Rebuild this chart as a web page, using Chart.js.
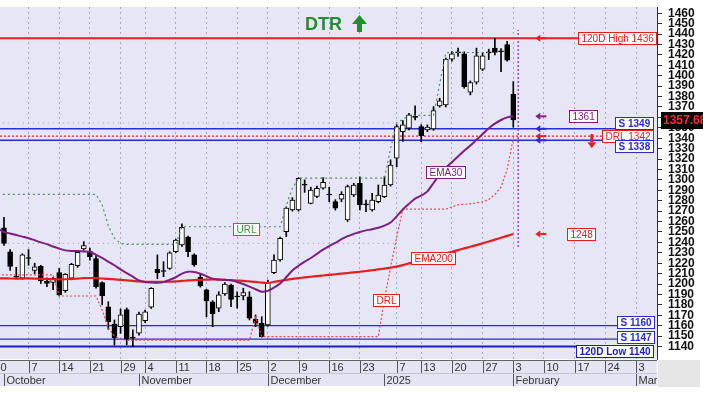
<!DOCTYPE html>
<html>
<head>
<meta charset="utf-8">
<script src="https://cdn.jsdelivr.net/npm/chart.js@4.4.1/dist/chart.umd.min.js"></script>
<style>
  body { margin: 0; background: #fff; }
  #wrap { width: 703px; height: 395px; }
</style>
</head>
<body>
<div id="wrap"><canvas id="chart" width="703" height="395"></canvas></div>
<script>
// x position = trading day index, 0 = 30 Sep 2024, 84 = 3 Feb 2025 (last candle)
const firstCandle = 1;

// weekly tick labels and month row
const tickIdx = [-1, 5, 10, 15, 20, 24, 29, 34, 39, 44, 49, 54, 59, 65, 69, 74, 79, 84, 89, 94, 99, 104];
const tickLabels = ['30', '7', '14', '21', '29', '4', '11', '18', '25', '2', '9', '16', '23', '7', '13', '20', '27', '3', '10', '17', '24', '3'];
const monthIdx = [1, 23, 44, 63, 84, 104];
const monthLabels = ['October', 'November', 'December', '2025', 'February', 'March'];
const yTicks = [1140, 1150, 1160, 1170, 1180, 1190, 1200, 1210, 1220, 1230, 1240, 1250, 1260, 1270, 1280,
  1290, 1300, 1310, 1320, 1330, 1340, 1350, 1360, 1370, 1380, 1390, 1400, 1410, 1420, 1430, 1440, 1450, 1460];

// daily candles, index 1..84
const open = [
  1254, 1231, 1207.5, 1205.5, 1225.5, 1213, 1217, 1202.5, 1201.5, 1211,
  1193.5, 1205.5, 1217.5, 1233.7, 1231.5, 1224.5, 1201.5, 1178, 1161.5, 1159,
  1175.5, 1148.5, 1152.7, 1164.8, 1177.7, 1214, 1212.5, 1215, 1231, 1237.5,
  1245, 1228, 1206.5, 1194.3, 1183, 1176.7, 1190.4, 1199, 1188.3, 1188.5,
  1187.8, 1166.1, 1162.3, 1160.7, 1210.9, 1223.1, 1250.3, 1271.1, 1271.1, 1296,
  1277.5, 1284, 1292, 1286.3, 1279.1, 1281.4, 1261.5, 1285.5, 1296.8, 1276.5,
  1271.1, 1279.1, 1283.9, 1295.1, 1320.8, 1346.3, 1349.6, 1360.6, 1351.2, 1348,
  1349, 1371, 1372, 1415.9, 1422.8, 1421, 1384.2, 1393.8, 1406.3, 1422.8,
  1426.5, 1424, 1430, 1382.3
];
const high = [
  1264, 1233, 1216, 1229, 1233, 1220, 1218, 1206, 1206.5, 1215,
  1210, 1220, 1231.5, 1240.7, 1234.5, 1228, 1202, 1183, 1165.5, 1176,
  1177, 1156, 1173, 1175, 1196.5, 1228, 1221.5, 1231, 1243, 1257.7,
  1246, 1229, 1210.3, 1195, 1184, 1192.6, 1201.3, 1200, 1192.6, 1196,
  1192.6, 1170.3, 1168.6, 1203.9, 1228, 1245, 1274, 1283, 1302, 1300,
  1293, 1294, 1302.2, 1293, 1281, 1288.7, 1295, 1296.8, 1303, 1280.7,
  1287.2, 1295.1, 1303.1, 1319.2, 1353, 1357, 1364, 1371, 1353, 1352.8,
  1370.4, 1378.4, 1417, 1423.2, 1426.5, 1423, 1395, 1426.5, 1422.3, 1425.5,
  1436, 1426, 1433, 1394.4
];
const low = [
  1237, 1213, 1205, 1204.5, 1218, 1210, 1200.5, 1197.5, 1194.5, 1188.5,
  1192, 1204, 1216, 1232.5, 1223, 1196, 1180, 1156.5, 1141.4, 1152.7,
  1141.5, 1140, 1151, 1163, 1176.5, 1205, 1207, 1214, 1230, 1236,
  1226.3, 1217, 1197, 1168.6, 1159, 1173.4, 1189, 1178.2, 1176.7, 1184.7,
  1165.5, 1159, 1149, 1159.5, 1210, 1222, 1245.5, 1270, 1270, 1288,
  1277, 1283, 1291, 1279, 1271, 1279, 1260, 1284, 1271.1, 1269.5,
  1270, 1278, 1283, 1294, 1312.7, 1337, 1348, 1357.5, 1336.7, 1346.3,
  1347.5, 1369.8, 1370, 1414, 1418.5, 1388, 1381.6, 1392, 1405, 1415.5,
  1420, 1404, 1414, 1350.6
];
const close = [
  1239, 1217, 1206.5, 1228, 1224.5, 1216.5, 1203, 1200.5, 1205.5, 1189.5,
  1209.4, 1219, 1230.5, 1236.8, 1226, 1197.5, 1188.5, 1163.8, 1148.5, 1170.3,
  1147, 1148, 1171.2, 1173.4, 1195.9, 1211, 1212, 1230, 1242.3, 1254.5,
  1231, 1218.3, 1198.1, 1183.7, 1171.2, 1189.5, 1200, 1185.3, 1187.5, 1191.7,
  1167.1, 1162.3, 1149.4, 1201.7, 1223.1, 1243.9, 1272.8, 1280.7, 1301.6, 1295,
  1290.3, 1292, 1297.7, 1285.5, 1272.8, 1286.2, 1293.5, 1295.1, 1276, 1276,
  1280.7, 1285.5, 1295.1, 1314.3, 1351.2, 1352.8, 1362.4, 1360, 1342.2, 1350.6,
  1366.5, 1375.8, 1415.9, 1421, 1422, 1389.6, 1393.4, 1419, 1419, 1422,
  1422.3, 1423, 1415, 1357.68
];

// indicator lines, index 0..84
const ema30 = [
  1253, 1250, 1248.5, 1247, 1245.5, 1244, 1242, 1240, 1238.3, 1236,
  1234, 1232.3, 1231.8, 1231.7, 1231.3, 1231, 1228, 1225, 1221.5, 1218,
  1214, 1210.5, 1207, 1203.5, 1202, 1201.5, 1201.2, 1201.8, 1204, 1206.5,
  1210, 1211.8, 1211.5, 1209.8, 1207.5, 1205, 1204.3, 1204, 1203.5, 1202,
  1200, 1197.5, 1195, 1192.6, 1193.5, 1196.5, 1200.5, 1206.5, 1213, 1217.5,
  1221.5, 1225, 1229, 1233, 1236.5, 1239.5, 1243, 1246, 1248, 1250,
  1251.5, 1252.5, 1254, 1256, 1259, 1265, 1271.5, 1277, 1282, 1285,
  1289, 1297, 1305, 1311.5, 1317, 1322.5, 1328, 1333, 1338.5, 1344,
  1349.5, 1354, 1357.5, 1360, 1361
];
const ema200 = [
  1205.5, 1205.5, 1205.3, 1205.2, 1205.3, 1205.4, 1205.2, 1205, 1204.8, 1204.6,
  1204.5, 1204.6, 1204.8, 1205.2, 1205.6, 1205.8, 1205.6, 1205.3, 1205, 1204.5,
  1204, 1203.5, 1203, 1202.5, 1202.2, 1202.2, 1202.2, 1202.2, 1202.2, 1202.5,
  1203, 1203.5, 1203.8, 1204, 1204.2, 1204.4, 1204.3, 1204, 1203.7, 1203.3,
  1203, 1202.5, 1202, 1201.3, 1201, 1202, 1203, 1204, 1205, 1205.7,
  1206.3, 1207, 1207.6, 1208.2, 1208.8, 1209.4, 1210, 1210.6, 1211.2, 1211.8,
  1212.5, 1213.2, 1214, 1214.8, 1215.7, 1216.7, 1218.2, 1219.8, 1221.4, 1223,
  1224.6, 1226.2, 1227.8, 1229.4, 1231, 1232.6, 1234.2, 1235.8, 1237.4, 1239,
  1240.8, 1242.6, 1244.4, 1246.2, 1248
];
const drl = [
  1208.7, 1208.7, 1208.7, 1208.7, 1208.7, 1208.7, 1208.7, 1208.7, 1208.7, 1208.7,
  1188.5, 1188.5, 1188.5, 1188.5, 1188.5, 1188.5, 1188.5, 1175, 1158, 1150,
  1147, 1146, 1146, 1146, 1146, 1146, 1146, 1146, 1146, 1146,
  1146, 1146, 1146, 1146, 1146, 1146, 1146, 1146, 1146, 1146,
  1146, 1146, 1168, 1149.4, 1149.4, 1149.4, 1149.4, 1149.4, 1149.4, 1149.4,
  1149.4, 1149.4, 1149.4, 1149.4, 1149.4, 1149.4, 1149.4, 1149.4, 1149.4, 1149.4,
  1149.4, 1149.4, 1149.4, 1185, 1216, 1245, 1272, 1272, 1272, 1272,
  1272, 1272, 1272, 1272, 1274, 1276, 1276.5, 1277, 1278, 1279,
  1281, 1286, 1293, 1310, 1340
];
const url = [
  1286, 1286, 1286, 1286, 1286, 1286, 1286, 1286, 1286, 1286,
  1286, 1286, 1286, 1286, 1286, 1286, 1286, 1276, 1256, 1244,
  1239, 1238, 1238, 1238, 1238, 1238, 1238, 1238, 1238, 1238,
  1255, 1255, 1255, 1255, 1255, 1255, 1255, 1255, 1255, 1255,
  1255, 1255, 1255, 1255, 1255, 1255, 1255, 1275, 1292, 1301.6,
  1301.6, 1301.6, 1301.6, 1301.6, 1301.6, 1301.6, 1301.6, 1301.6, 1301.6, 1301.6,
  1301.6, 1301.6, 1301.6, 1301.6, 1330, 1355, 1358, 1362, 1362, 1362,
  1362, 1362, 1392, 1422, 1422.3, 1422.3, 1422.3, 1422.3, 1422.3, 1422.3,
  1422.3
];

// dotted reference levels on the left part, and the "today" marker
const refLevels = [1354.5, 1239];
const refEnd = 64.5;
const todayIdx = 84.8;
const todayRange = [1235.5, 1444];

// labelled horizontal levels
const levelValues = [1436, 1349, 1342, 1338, 1160, 1147, 1140];
const levelNames = ['120D High 1436', 'S 1349', 'DRL 1342', 'S 1338', 'S 1160', 'S 1147', '120D Low 1140'];
const lastPrice = 1357.68;

const RED = '#e3201f';
const BLUE = '#2a2ad6';
const PURPLE = '#7e1f80';
const GREEN = '#2f9a3a';
const PLOT_BG = 'rgb(230,230,246)';
const FONT = '"Liberation Sans", Arial, sans-serif';

const levelStyle = [
  { color: RED, width: 2, dash: [], bold: false, right: 656, dy: 0 },
  { color: BLUE, width: 1.5, dash: [], bold: true, right: 653, dy: -6 },
  { color: RED, width: 1.2, dash: [2, 2], bold: false, right: 653, dy: 0 },
  { color: BLUE, width: 1.5, dash: [], bold: true, right: 653, dy: 6 },
  { color: BLUE, width: 1.2, dash: [], bold: true, right: 654, dy: -4 },
  { color: BLUE, width: 1.2, dash: [], bold: true, right: 654, dy: -2 },
  { color: '#1c1cb8', width: 2, dash: [], bold: true, right: 653, dy: 4 }
];

Chart.defaults.font.family = FONT;

function toPoints(arr, start) {
  return arr.map((v, i) => ({ x: start + i, y: v }));
}

function boxWidth(ctx, text, bold) {
  ctx.font = (bold ? 'bold ' : '') + '10px ' + FONT;
  return Math.round(ctx.measureText(text).width) + 6;
}

function drawBox(ctx, text, x, cy, color, bold, align) {
  const w = boxWidth(ctx, text, bold);
  const h = 12;
  const left = Math.round(align === 'right' ? x - w : x - w / 2) + 0.5;
  const top = Math.round(cy - h / 2) + 0.5;
  ctx.fillStyle = '#fff';
  ctx.fillRect(left, top, w, h);
  ctx.strokeStyle = color;
  ctx.lineWidth = 1;
  ctx.setLineDash([]);
  ctx.strokeRect(left, top, w, h);
  ctx.fillStyle = color;
  ctx.textAlign = 'left';
  ctx.textBaseline = 'middle';
  ctx.fillText(text, left + 3, top + h / 2 + 0.5);
}

function leftArrow(ctx, x, y, color) {
  ctx.fillStyle = color;
  ctx.beginPath();
  ctx.moveTo(x - 5, y);
  ctx.lineTo(x, y - 3.5);
  ctx.lineTo(x, y + 3.5);
  ctx.closePath();
  ctx.fill();
  ctx.fillRect(x, y - 1, 6, 2);
}

const deco = {
  id: 'deco',
  beforeDraw(chart) {
    const { ctx, chartArea: a } = chart;
    ctx.save();
    ctx.fillStyle = '#fff';
    ctx.fillRect(0, 0, chart.width, chart.height);
    ctx.fillStyle = PLOT_BG;
    ctx.fillRect(a.left, a.top, a.right - a.left, a.bottom - a.top);
    ctx.restore();
  },
  beforeDatasetsDraw(chart) {
    const { ctx, chartArea: a } = chart;
    const ys = chart.scales.y;
    ctx.save();
    levelValues.forEach((v, i) => {
      const st = levelStyle[i];
      const y = ys.getPixelForValue(v);
      const end = st.right - boxWidth(ctx, levelNames[i], st.bold);
      ctx.strokeStyle = st.color;
      ctx.lineWidth = st.width;
      ctx.setLineDash(st.dash);
      ctx.beginPath();
      ctx.moveTo(a.left, y);
      ctx.lineTo(end, y);
      ctx.stroke();
    });
    ctx.restore();
  },
  afterDatasetsDraw(chart) {
    const { ctx } = chart;
    const xs = chart.scales.x, ys = chart.scales.y;
    ctx.save();
    levelValues.forEach((v, i) => {
      const st = levelStyle[i];
      drawBox(ctx, levelNames[i], st.right, ys.getPixelForValue(v) + st.dy, st.color, st.bold, 'right');
    });
    drawBox(ctx, String(ema30[84]), 582.5, ys.getPixelForValue(ema30[84]), PURPLE, false, 'center');
    drawBox(ctx, String(ema200[84]), 580.5, ys.getPixelForValue(ema200[84]), RED, false, 'center');
    drawBox(ctx, 'URL', xs.getPixelForValue(40.4), ys.getPixelForValue(1255) + 2, GREEN, false, 'center');
    drawBox(ctx, 'EMA30', xs.getPixelForValue(72.9), ys.getPixelForValue(ema30[73]) + 4, PURPLE, false, 'center');
    drawBox(ctx, 'EMA200', xs.getPixelForValue(70.9), ys.getPixelForValue(ema200[71]) + 1, RED, false, 'center');
    drawBox(ctx, 'DRL', xs.getPixelForValue(63.2), ys.getPixelForValue(drl[63]), RED, false, 'center');

    // pointer arrows right of the last bar
    const ax = xs.getPixelForValue(88.4);
    leftArrow(ctx, ax, ys.getPixelForValue(1436), RED);
    leftArrow(ctx, ax, ys.getPixelForValue(ema30[84]), PURPLE);
    leftArrow(ctx, ax, ys.getPixelForValue(1349), BLUE);
    leftArrow(ctx, ax, ys.getPixelForValue(1342), RED);
    leftArrow(ctx, ax, ys.getPixelForValue(1338), BLUE);
    leftArrow(ctx, ax, ys.getPixelForValue(ema200[84]), RED);

    // red down arrow next to DRL
    const dx = xs.getPixelForValue(96.8);
    const dy = ys.getPixelForValue(1342);
    ctx.fillStyle = RED;
    ctx.fillRect(dx - 1.5, dy - 2, 3, 8);
    ctx.beginPath();
    ctx.moveTo(dx - 4.5, dy + 6);
    ctx.lineTo(dx + 4.5, dy + 6);
    ctx.lineTo(dx, dy + 12);
    ctx.closePath();
    ctx.fill();

    // DTR title with up arrow
    ctx.fillStyle = '#1d8f2e';
    ctx.font = 'bold 18px ' + FONT;
    ctx.textAlign = 'left';
    ctx.textBaseline = 'alphabetic';
    ctx.fillText('DTR', 305, 30);
    ctx.beginPath();
    ctx.moveTo(359.5, 15);
    ctx.lineTo(367, 24);
    ctx.lineTo(352, 24);
    ctx.closePath();
    ctx.fill();
    ctx.fillRect(357, 23, 5, 9);
    ctx.restore();
  },
  afterDraw(chart) {
    const { ctx, chartArea: a } = chart;
    const xs = chart.scales.x, ys = chart.scales.y;
    ctx.save();
    // date rows under the plot
    ctx.fillStyle = 'rgb(228,228,242)';
    ctx.fillRect(a.left, a.bottom + 1, a.right - a.left, 26);
    ctx.fillStyle = '#e6e6e6';
    ctx.fillRect(a.right + 1, a.bottom + 1, 42, 27);
    ctx.beginPath();
    ctx.rect(a.left, a.bottom, a.right - a.left, 36);
    ctx.clip();
    ctx.strokeStyle = '#666';
    ctx.lineWidth = 1;
    ctx.beginPath();
    ctx.moveTo(a.left, a.bottom + 1.5);
    ctx.lineTo(a.right, a.bottom + 1.5);
    ctx.stroke();
    ctx.strokeStyle = '#c4c4d4';
    ctx.beginPath();
    ctx.moveTo(a.left, a.bottom + 14.5);
    ctx.lineTo(a.right, a.bottom + 14.5);
    ctx.stroke();
    ctx.font = '11px ' + FONT;
    ctx.textAlign = 'left';
    ctx.textBaseline = 'middle';
    ctx.strokeStyle = '#555';
    tickIdx.forEach((v, i) => {
      const x = Math.round(xs.getPixelForValue(v)) + 0.5;
      ctx.beginPath();
      ctx.moveTo(x, a.bottom + 2);
      ctx.lineTo(x, a.bottom + 14);
      ctx.stroke();
      ctx.fillStyle = '#333';
      ctx.fillText(tickLabels[i], x + 2, a.bottom + 8.5);
    });
    monthIdx.forEach((v, i) => {
      const x = Math.round(xs.getPixelForValue(v)) + 0.5;
      ctx.beginPath();
      ctx.moveTo(x, a.bottom + 15);
      ctx.lineTo(x, a.bottom + 27);
      ctx.stroke();
      ctx.fillStyle = '#333';
      ctx.fillText(monthLabels[i], x + 2, a.bottom + 21.5);
    });
    ctx.restore();

    // last price tag on the axis
    ctx.save();
    const py = ys.getPixelForValue(lastPrice);
    ctx.fillStyle = '#000';
    ctx.fillRect(a.right + 4, Math.round(py) - 8, 46, 17);
    ctx.fillStyle = '#ff2a2a';
    ctx.font = 'bold 12px ' + FONT;
    ctx.textAlign = 'left';
    ctx.textBaseline = 'middle';
    ctx.fillText(lastPrice.toFixed(2), a.right + 6, Math.round(py) + 0.5);
    ctx.restore();
  }
};

const candleX = open.map((v, i) => firstCandle + i);

new Chart(document.getElementById('chart'), {
  type: 'line',
  data: {
    datasets: [
      {
        type: 'line', label: 'EMA30', data: toPoints(ema30, 0), order: 0,
        borderColor: PURPLE, borderWidth: 2, pointRadius: 0, tension: 0.25
      },
      {
        type: 'line', label: 'EMA200', data: toPoints(ema200, 0), order: 0,
        borderColor: RED, borderWidth: 2.2, pointRadius: 0, tension: 0.25
      },
      {
        type: 'line', label: 'DRL', data: toPoints(drl, 0), order: 0,
        borderColor: '#e2484c', borderWidth: 1.2, borderDash: [2, 2], pointRadius: 0
      },
      {
        type: 'line', label: 'URL', data: toPoints(url, 0), order: 0,
        borderColor: '#4f8f55', borderWidth: 1.2, borderDash: [2, 3], pointRadius: 0
      },
      {
        type: 'line', label: 'today', order: 0,
        data: [{ x: todayIdx, y: todayRange[0] }, { x: todayIdx, y: todayRange[1] }],
        borderColor: '#a04aa4', borderWidth: 1.5, borderDash: [2, 2], pointRadius: 0
      },
      {
        type: 'bar', label: 'body', order: 1, grouped: false,
        data: candleX.map((x, i) => ({ x: x, y: [open[i], close[i]] })),
        barThickness: 5, minBarLength: 1, borderSkipped: false, borderWidth: 1,
        borderColor: '#000',
        backgroundColor: ctx => close[ctx.dataIndex] >= open[ctx.dataIndex] ? '#fff' : '#000'
      },
      {
        type: 'bar', label: 'wick', order: 2, grouped: false,
        data: candleX.map((x, i) => ({ x: x, y: [low[i], high[i]] })),
        barThickness: 1, borderWidth: 0, backgroundColor: '#000'
      },
      ...refLevels.map(v => ({
        type: 'line', label: 'ref', order: 3,
        data: [{ x: 0, y: v }, { x: refEnd, y: v }],
        borderColor: '#9c9cb4', borderWidth: 1, borderDash: [1, 4], pointRadius: 0
      }))
    ]
  },
  options: {
    responsive: false,
    animation: false,
    layout: { padding: { top: 7, left: 0, right: 0, bottom: 0 } },
    plugins: { legend: { display: false }, tooltip: { enabled: false } },
    scales: {
      x: {
        type: 'linear', min: 0.35, max: 107.42, offset: false,
        afterBuildTicks: s => { s.ticks = tickIdx.map(v => ({ value: v })); },
        afterFit: s => { s.height = 36; s.paddingLeft = 0; s.paddingRight = 0; },
        ticks: { display: false },
        grid: { color: '#a6a6bc', drawTicks: false, offset: false },
        border: { display: false, dash: [2, 3] }
      },
      y: {
        type: 'linear', position: 'right', min: 1128, max: 1466,
        afterBuildTicks: s => { s.ticks = yTicks.map(v => ({ value: v })); },
        afterFit: s => { s.width = 46; s.paddingTop = 0; s.paddingBottom = 0; },
        ticks: {
          color: '#111', padding: 6, autoSkip: false, font: { size: 12, weight: 'bold' },
          callback: v => String(v)
        },
        grid: { drawOnChartArea: false, drawTicks: true, tickLength: 5, color: '#333' },
        border: { display: true, color: '#333' }
      }
    }
  },
  plugins: [deco]
});
</script>
</body>
</html>
